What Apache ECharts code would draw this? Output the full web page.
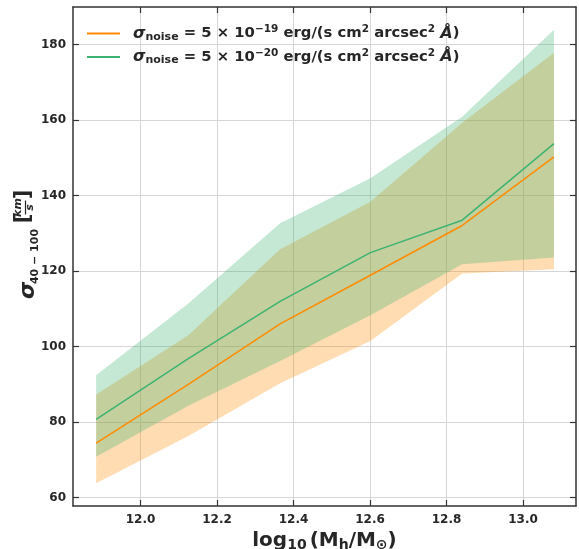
<!DOCTYPE html>
<html>
<head>
<meta charset="utf-8">
<script src="https://cdn.jsdelivr.net/npm/echarts@6/dist/echarts.min.js"></script>
<style>html,body{margin:0;padding:0;background:#fff;}#c{width:579px;height:549px;}</style>
</head>
<body>
<div id="c"></div>
<script>
// Halo mass bins (log10 Mh/Msun)
const xVals = [11.884, 12.125, 12.365, 12.601, 12.841, 13.081];
// sigma_noise = 5e-19
const orangeMid = [74.4, 90.0, 106.0, 118.9, 132.1, 150.3];
const orangeLo  = [63.8, 76.3, 90.3, 101.5, 119.4, 120.5];
const orangeHi  = [87.3, 103.0, 125.8, 138.4, 159.3, 177.9];
// sigma_noise = 5e-20
const greenMid = [80.7, 96.8, 112.0, 124.9, 133.5, 153.8];
const greenLo  = [70.8, 84.3, 96.2, 108.3, 121.8, 123.6];
const greenHi  = [92.4, 111.4, 132.7, 144.6, 160.9, 184.0];
// tick labels
const xTicks = [12.0, 12.2, 12.4, 12.6, 12.8, 13.0];
const yTicks = [60, 80, 100, 120, 140, 160, 180];

const ORANGE = '#ff8c00', GREEN = '#3cb371';
const FONT = 'DejaVu Sans';
const TXT = '#262626';

const pairs = (ys) => xVals.map((x, i) => [x, ys[i]]);

function band(lo, hi, color, z) {
  return {
    type: 'custom', silent: true, z: z,
    data: xVals.map((x, i) => [x, lo[i], hi[i]]),
    encode: { x: 0, y: [1, 2] },
    renderItem: function (params, api) {
      if (params.dataIndex !== 0) return null;
      const top = [], bot = [];
      for (let i = 0; i < xVals.length; i++) {
        top.push(api.coord([xVals[i], hi[i]]));
        bot.push(api.coord([xVals[i], lo[i]]));
      }
      return {
        type: 'polygon',
        shape: { points: top.concat(bot.reverse()) },
        style: { fill: color, opacity: 0.3 }
      };
    }
  };
}

const chart = echarts.init(document.getElementById('c'), null, { renderer: 'canvas' });
const tickStyle = { inside: true, length: 6, lineStyle: { color: '#333', width: 1.2 } };
const axisLineStyle = { show: true, lineStyle: { color: '#333', width: 1.5 } };
const splitStyle = { show: true, lineStyle: { color: '#d6d6d6', width: 1 } };

const legendRich = {
  s: { fontFamily: FONT, fontWeight: 'bold', fontStyle: 'italic', fontSize: 16, color: TXT },
  sub: { fontFamily: FONT, fontWeight: 'bold', fontSize: 11, color: TXT, padding: [7, 0, 0, 0] },
  t: { fontFamily: FONT, fontWeight: 'bold', fontSize: 14.8, color: TXT },
  sup: { fontFamily: FONT, fontWeight: 'bold', fontSize: 10.5, color: TXT, padding: [0, 0, 8, 0] }
};

const yLabelFont = { fontFamily: FONT, fontWeight: 'bold', fill: TXT, align: 'center', verticalAlign: 'middle' };

const n1 = 'noise19', n2 = 'noise20';
chart.setOption({
  animation: false,
  backgroundColor: '#fff',
  grid: { left: 73, right: 3, top: 7, bottom: 43, containLabel: false, outerBoundsMode: 'none' },
  legend: {
    data: [n1, n2], orient: 'vertical', left: 82, top: 19, itemGap: 5,
    icon: 'rect', itemWidth: 33, itemHeight: 2,
    formatter: function (name) {
      const e = name === n1 ? '−19' : '−20';
      return '{s|σ}{sub|noise}{t| = 5 × 10}{sup|' + e + '}{t| erg/(s cm}{sup|2}{t| arcsec}{sup|2}{t| }{s|Å}{t|)}';
    },
    textStyle: { rich: legendRich, padding: [0, 0, 0, 8] }
  },
  xAxis: [{
    type: 'value', min: 11.8235, max: 13.1386,
    axisLine: axisLineStyle, axisTick: Object.assign({ customValues: xTicks }, tickStyle),
    splitLine: splitStyle,
    axisLabel: { customValues: xTicks, formatter: v => v.toFixed(1), fontFamily: FONT, fontWeight: 'bold', fontSize: 12, color: TXT, margin: 8 },
    name: '{b|log}{sub|10}{b|(M}{sub2|h}{b|/M}{sub2|⊙}{b|)}', nameLocation: 'middle', nameGap: 21,
    nameTextStyle: { rich: {
      b: { fontFamily: FONT, fontWeight: 'bold', fontSize: 20, color: TXT },
      sub: { fontFamily: FONT, fontWeight: 'bold', fontSize: 14, color: TXT, padding: [9, 3, 0, 0] },
      sub2: { fontFamily: FONT, fontWeight: 'bold', fontSize: 14, color: TXT, padding: [9, 0, 0, 0] }
    } }
  }, {
    type: 'value', position: 'top', min: 11.8235, max: 13.1386,
    axisLine: axisLineStyle, axisTick: Object.assign({ customValues: xTicks }, tickStyle),
    splitLine: { show: false }, axisLabel: { show: false }
  }],
  yAxis: [{
    type: 'value', min: 57.75, max: 190,
    axisLine: axisLineStyle, axisTick: Object.assign({ customValues: yTicks }, tickStyle),
    splitLine: splitStyle,
    axisLabel: { customValues: yTicks, fontFamily: FONT, fontWeight: 'bold', fontSize: 12, color: TXT, margin: 7 }
  }, {
    type: 'value', position: 'right', min: 57.75, max: 190,
    axisLine: axisLineStyle, axisTick: Object.assign({ customValues: yTicks }, tickStyle),
    splitLine: { show: false }, axisLabel: { show: false }
  }],
  graphic: [{
    type: 'group', x: 25.5, y: 207.5, rotation: Math.PI / 2,
    children: [
      { type: 'text', x: -83, y: 2.5, style: Object.assign({ text: 'σ', fontSize: 22, fontStyle: 'italic' }, yLabelFont) },
      { type: 'text', x: -49, y: 9.5, style: Object.assign({ text: '40 − 100', fontSize: 11 }, yLabelFont) },
      { type: 'text', x: -11, y: -2, style: Object.assign({ text: '[', fontSize: 21 }, yLabelFont) },
      { type: 'text', x: 0, y: -7, style: Object.assign({ text: 'km', fontSize: 11, fontStyle: 'italic' }, yLabelFont) },
      { type: 'line', shape: { x1: -7, y1: 0, x2: 7, y2: 0 }, style: { stroke: TXT, lineWidth: 1.2 } },
      { type: 'text', x: 0, y: 5, style: Object.assign({ text: 's', fontSize: 11, fontStyle: 'italic' }, yLabelFont) },
      { type: 'text', x: 13, y: -2, style: Object.assign({ text: ']', fontSize: 21 }, yLabelFont) }
    ]
  }],
  series: [
    band(orangeLo, orangeHi, ORANGE, 1),
    band(greenLo, greenHi, GREEN, 2),
    { type: 'line', name: n1, data: pairs(orangeMid), symbol: 'none', color: ORANGE,
      lineStyle: { color: ORANGE, width: 1.5 }, z: 3 },
    { type: 'line', name: n2, data: pairs(greenMid), symbol: 'none', color: GREEN,
      lineStyle: { color: GREEN, width: 1.5 }, z: 3 }
  ]
});
</script>
</body>
</html>
